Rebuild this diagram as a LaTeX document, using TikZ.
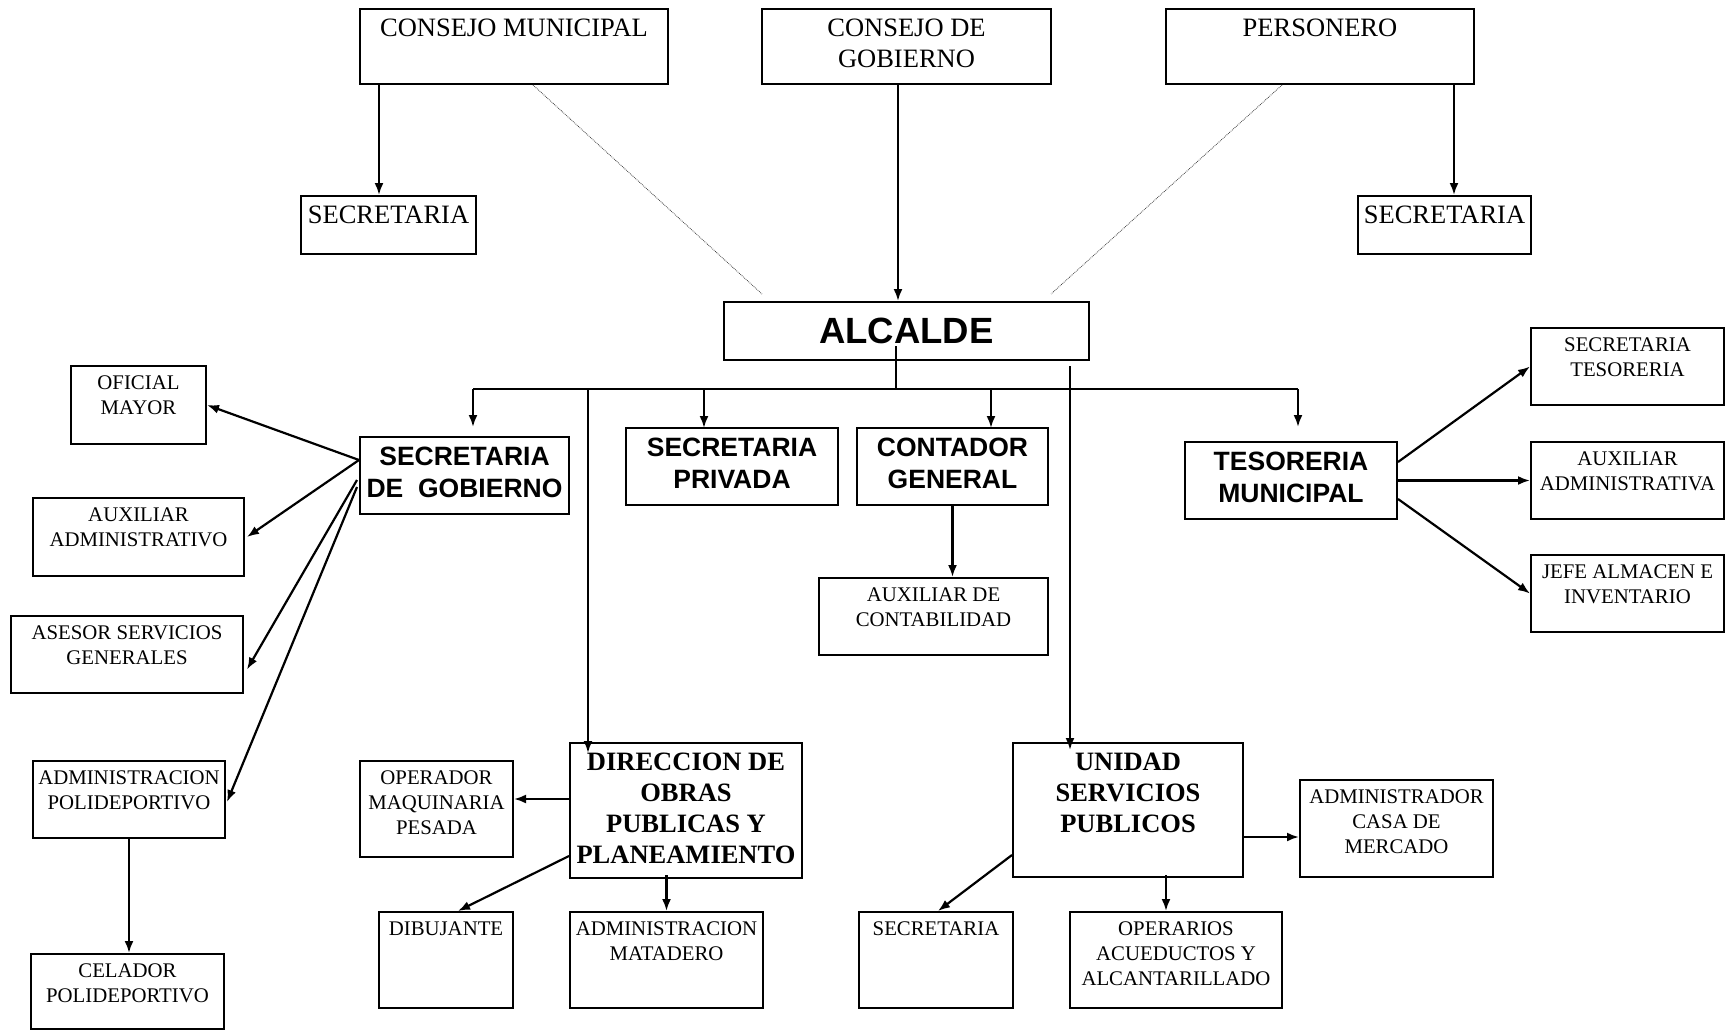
\documentclass[tikz,border=0pt]{standalone}
\usepackage{fontspec}
\setmainfont{Liberation Serif}
\setsansfont{Liberation Sans}
\usetikzlibrary{arrows.meta,calc}
\tikzset{
 box/.style={draw, line width=2pt, inner sep=0pt},
 ts/.style={font=\fontsize{26.5}{31}\selectfont, align=center, inner sep=0pt},
 tsm/.style={font=\fontsize{20.8}{25}\selectfont, align=center, inner sep=0pt},
 tb/.style={font=\sffamily\bfseries\fontsize{26.5}{32}\selectfont, align=center, inner sep=0pt},
 tbs/.style={font=\bfseries\fontsize{26.5}{31}\selectfont, align=center, inner sep=0pt},
 arr/.style={line width=2.2pt, -{Latex[length=12pt,width=9pt]}},
 plain/.style={line width=2.2pt},
 dots/.style={densely dotted, line width=0.8pt, black!75}
}
\newcommand\mkbox[7]{%
 \pgfmathsetmacro\bw{#4-#2}\pgfmathsetmacro\bh{#5-#3}%
 \pgfmathsetmacro\bcx{(#2+#4)/2}\pgfmathsetmacro\bcy{(#3+#5)/2}%
 \node[box, minimum width=\bw pt, minimum height=\bh pt] (#1) at (\bcx,\bcy) {};%
 \node[#6, anchor=north, yshift=-11pt] (#1t) at (#1.north) {#7};}
\begin{document}
\begin{tikzpicture}[x=1pt,y=-1pt]
\useasboundingbox (0,0) rectangle (1730,1031);
% top row
\mkbox{cm}{360}{9}{668}{84}{ts}{CONSEJO MUNICIPAL}
\mkbox{cg}{762}{9}{1051}{84}{ts}{CONSEJO DE\\GOBIERNO}
\mkbox{pe}{1166}{9}{1474}{84}{ts}{PERSONERO}
\mkbox{sa}{301}{196}{476}{254}{ts}{SECRETARIA}
\mkbox{sb}{1358}{196}{1531}{254}{ts}{SECRETARIA}
% alcalde
\node[box, minimum width=365pt, minimum height=58pt] (al) at (906.5,331) {};
\node[font=\sffamily\bfseries\fontsize{36.5}{40}\selectfont, inner sep=0pt] (alt) at (al.center) {ALCALDE};
% second level
\mkbox{sg}{360}{437}{569}{514}{tb}{SECRETARIA\\DE\ \ GOBIERNO}
\mkbox{sp}{626}{428}{838}{505}{tb}{SECRETARIA\\PRIVADA}
\mkbox{cn}{857}{428}{1048}{505}{tb}{CONTADOR\\GENERAL}
\mkbox{tm}{1185}{442}{1397}{519}{tb}{TESORERIA\\MUNICIPAL}
\mkbox{ac}{819}{578}{1048}{655}{tsm}{AUXILIAR DE\\CONTABILIDAD}
\mkbox{st}{1531}{328}{1724}{405}{tsm}{SECRETARIA\\TESORERIA}
\mkbox{aa}{1531}{442}{1724}{519}{tsm}{AUXILIAR\\ADMINISTRATIVA}
\mkbox{ja}{1531}{555}{1724}{632}{tsm}{JEFE ALMACEN E\\INVENTARIO}
% left column
\mkbox{om}{71}{366}{206}{444}{tsm}{OFICIAL\\MAYOR}
\mkbox{ad}{33}{498}{244}{576}{tsm}{AUXILIAR\\ADMINISTRATIVO}
\mkbox{ase}{11}{616}{243}{693}{tsm}{ASESOR SERVICIOS\\GENERALES}
\mkbox{ap}{33}{761}{225}{838}{tsm}{ADMINISTRACION\\POLIDEPORTIVO}
\mkbox{ce}{31}{954}{224}{1029}{tsm}{CELADOR\\POLIDEPORTIVO}
% obras
\mkbox{op}{360}{761}{513}{857}{tsm}{OPERADOR\\MAQUINARIA\\PESADA}
\mkbox{dop}{570}{743}{802}{878}{tbs}{DIRECCION DE\\OBRAS\\PUBLICAS Y\\PLANEAMIENTO}
\mkbox{di}{379}{912}{513}{1008}{tsm}{DIBUJANTE}
\mkbox{mt}{570}{912}{763}{1008}{tsm}{ADMINISTRACION\\MATADERO}
% servicios
\mkbox{un}{1013}{743}{1243}{877}{tbs}{UNIDAD\\SERVICIOS\\PUBLICOS}
\mkbox{mc}{1300}{780}{1493}{877}{tsm}{ADMINISTRADOR\\CASA DE\\MERCADO}
\mkbox{sc}{859}{912}{1013}{1008}{tsm}{SECRETARIA}
\mkbox{oa}{1070}{912}{1282}{1008}{tsm}{OPERARIOS\\ACUEDUCTOS Y\\ALCANTARILLADO}

% top connectors
\coordinate (c1) at ([xshift=-9.5pt]sa.north);
\draw[arr] (c1 |- cm.south) -- (c1);
\coordinate (c2) at ([xshift=-8.5pt]al.north);
\draw[arr] (c2 |- cg.south) -- (c2);
\coordinate (c3) at ([xshift=9.5pt]sb.north);
\draw[arr] (c3 |- pe.south) -- (c3);
\coordinate (d1) at (762,294);
\coordinate (d2) at (1051,294);
\draw[dots] ([xshift=19pt]cm.south) -- (d1);
\draw[dots] ([xshift=-38pt]pe.south) -- (d2);

% bus
\coordinate (a0) at ([xshift=-10.5pt,yshift=15pt]al.south);
\coordinate (bm) at (896,389);
\coordinate (bl) at (473,389);
\coordinate (br) at (1298,389);
\draw[plain] (a0) -- (bm);
\draw[plain] (bl) -- (br);
\draw[arr] (bl) -- (473,427);
\draw[arr] (704,389) -- (704,428);
\draw[arr] (991,389) -- (991,428);
\draw[arr] (br) -- (1298,427);
\coordinate (v1) at (588,389);
\coordinate (v1e) at (588,753);
\draw[arr] (v1) -- (v1e);
\coordinate (v2) at (1070,366);
\coordinate (v2e) at (1070,750);
\draw[arr] (v2) -- (v2e);

% secretaria de gobierno
\draw[arr] ([yshift=15.5pt]sg.west) -- (om.east);
\draw[arr] ([yshift=15.5pt]sg.west) -- ([xshift=2pt]ad.east);
\draw[arr] ([yshift=-4.5pt,xshift=-2pt]sg.west) -- ([xshift=3pt,yshift=-15pt]ase.east);
\draw[arr] ([yshift=-11.5pt,xshift=-2pt]sg.west) -- ([xshift=1pt,yshift=-2.5pt]ap.east);
\draw[arr] (ap.south) -- (ap.south |- ce.north);

% contador
\draw[arr] (cn.south) -- (cn.south |- ac.north);

% tesoreria
\draw[arr] ([yshift=18.5pt]tm.east) -- (st.west);
\draw[arr] (tm.east) -- (aa.west);
\draw[arr] ([yshift=-18.5pt]tm.east) -- (ja.west);

% obras
\coordinate (o1) at ([yshift=11.5pt]dop.west);
\draw[arr] (o1) -- (o1 -| op.east);
\draw[arr] ([yshift=-45.5pt]dop.west) -- ([xshift=12pt]di.north);
\draw[arr] ([yshift=4pt]mt.north |- dop.south) -- (mt.north);

% servicios
\coordinate (u1) at ([yshift=-27pt]un.east);
\draw[arr] (u1) -- (u1 -| mc.west);
\draw[arr] ([yshift=-45pt]un.west) -- ([xshift=2pt]sc.north);
\coordinate (u3) at ([xshift=-10pt]oa.north);
\draw[arr] ([yshift=3pt]u3 |- un.south) -- (u3);
\end{tikzpicture}
\end{document}
